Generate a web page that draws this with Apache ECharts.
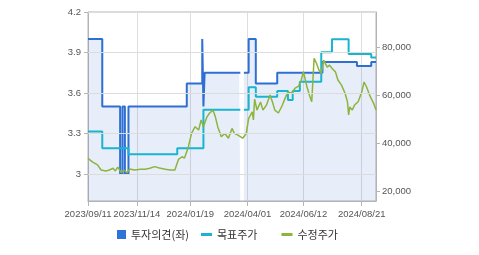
<!DOCTYPE html>
<html><head><meta charset="utf-8">
<script src="https://cdn.jsdelivr.net/npm/echarts@6/dist/echarts.min.js"></script>
<style>html,body{margin:0;padding:0;background:#fff}#c{width:479px;height:255px}</style>
</head><body><div id="c"></div>
<script>
// trading calendar (KRX)
const startDate = '2023-09-11';
const endDate = '2024-09-06';
const holidays = ['2023-09-28','2023-09-29','2023-10-02','2023-10-03','2023-10-09','2023-12-25','2023-12-29',
  '2024-01-01','2024-02-09','2024-02-12','2024-03-01','2024-04-10','2024-05-01','2024-05-06','2024-05-15',
  '2024-06-06','2024-08-15'];
const xLabelDates = ['2023/09/11','2023/11/14','2024/01/19','2024/04/01','2024/06/12','2024/08/21'];
const leftTicks = [3, 3.3, 3.6, 3.9, 4.2];
const rightTicks = [20000, 40000, 60000, 80000];

// 수정주가 (trading-day index, price)
const priceIdx = [0,4,8,11,15,18,21,23,25,28,30,33,35,39,44,48,52,56,60,65,69,73,76,79,81,84,87,90,93,95,97,100,102,105,107,109,112,115,118,121,123,126,130,133,135,138,139,140,142,145,147,150,153,155,157,160,163,166,168,171,174,177,179,181,184,186,188,190,192,194,196,198,201,203,205,208,210,213,216,218,219,220,222,224,227,230,232,234,237,240,242];
const priceVal = [33800,32300,31100,29000,28600,29000,29700,28600,30200,27900,29000,27900,29400,29000,29300,29300,29700,30400,29800,29300,29000,29000,33400,34500,33900,38000,44200,47000,45600,49800,47000,51100,52600,53900,51100,47000,42800,44200,42200,46300,44200,43500,42200,44200,50500,53200,49800,58500,53900,57300,53900,56000,60200,57300,53900,52700,55600,59300,61400,60900,63000,63900,66000,69900,63600,60200,57400,75400,73400,70600,69200,74700,71800,72600,71300,69700,66400,64300,60900,57400,51900,55200,53900,56000,57400,61400,65600,63600,59700,56700,53900];

// 투자의견 (change points)
const opinionIdx = [0,12,27,29,31,34,83,96,97,98,127,128,131,135,141,159,197,226,238,242];
const opinionVal = [4.0,3.5,3.0,3.5,3.0,3.5,3.67,4.0,3.5,3.75,3.75,null,3.75,4.0,3.67,3.75,3.83,3.8,3.83,3.83];

// 목표주가 (change points)
const targetIdx = [0,12,34,75,97,127,128,131,135,141,159,168,172,178,196,205,219,238,242];
const targetVal = [45000,38000,35500,38000,54000,54000,null,54000,63400,59500,61800,58100,61800,65700,78000,83400,77200,75800,75800];

function pad(n){return n<10?'0'+n:''+n;}
const cats = [];
(function(){
  const d = new Date(startDate+'T00:00:00');
  const e = new Date(endDate+'T00:00:00');
  while (d <= e) {
    const iso = d.getFullYear()+'-'+pad(d.getMonth()+1)+'-'+pad(d.getDate());
    const wd = d.getDay();
    if (wd !== 0 && wd !== 6 && holidays.indexOf(iso) < 0) cats.push(iso.replace(/-/g,'/'));
    d.setDate(d.getDate()+1);
  }
})();
function pairs(idx, vals){ return idx.map((i,k)=>[cats[i], vals[k]]); }
const isLabel = (i, v) => xLabelDates.indexOf(v) >= 0;
const fmt = v => String(v).replace(/\B(?=(\d{3})+(?!\d))/g, ',');

const axisFont = {fontFamily:'Liberation Sans, Arial, sans-serif', fontSize:9.5, color:'#555'};
const legendFont = {fontFamily:'Noto Sans CJK KR', fontSize:11, color:'#333'};
const chart = echarts.init(document.getElementById('c'), null, {renderer:'canvas'});
chart.setOption({
  animation:false,
  grid:{left:88, right:103, top:12, bottom:54, show:true, borderColor:'#b4b4b4', borderWidth:1, backgroundColor:'transparent'},
  legend:[
    {data:[{name:'투자의견(좌)'}], left:117, top:229, padding:0, icon:'rect', itemWidth:9, itemHeight:9, itemGap:24, textStyle:legendFont},
    {data:[{name:'목표주가'},{name:'수정주가'}], left:201, top:229, padding:0, icon:'rect', itemWidth:11, itemHeight:3, itemGap:24, textStyle:legendFont}
  ],
  xAxis:{type:'category', data:cats, boundaryGap:false,
    axisLine:{lineStyle:{color:'#b4b4b4'}},
    axisTick:{interval:isLabel, length:5, lineStyle:{color:'#b4b4b4'}},
    axisLabel:Object.assign({interval:isLabel, margin:8}, axisFont),
    splitLine:{show:true, interval:isLabel, lineStyle:{color:'#dedede'}}},
  yAxis:[
    {type:'value', min:2.8, max:4.2, position:'left',
     axisLine:{show:true, lineStyle:{color:'#b4b4b4'}},
     axisTick:{show:true, length:4, customValues:leftTicks, lineStyle:{color:'#b4b4b4'}},
     axisLabel:Object.assign({customValues:leftTicks, margin:7}, axisFont),
     splitLine:{show:false}},
    {type:'value', min:16100, max:94700, position:'right',
     axisLine:{show:true, lineStyle:{color:'#b4b4b4'}},
     axisTick:{show:true, length:4, customValues:rightTicks, lineStyle:{color:'#b4b4b4'}},
     axisLabel:Object.assign({customValues:rightTicks, margin:6, formatter:fmt}, axisFont),
     splitLine:{show:false}}
  ],
  series:[
    {name:'grid', type:'line', yAxisIndex:0, data:[], z:1, silent:true,
     markLine:{silent:true, symbol:'none', animation:false, label:{show:false},
       lineStyle:{color:'#dcdcdc', type:'solid', width:1},
       data:leftTicks.map(v=>({yAxis:v}))}},
    {name:'투자의견(좌)', type:'line', yAxisIndex:0, step:'end', data:pairs(opinionIdx, opinionVal),
     showSymbol:false, connectNulls:false, itemStyle:{color:'#2f72d8'},
     lineStyle:{color:'#2f6fd3', width:2}, areaStyle:{color:'rgba(49,112,216,0.17)'}, z:2},
    {name:'목표주가', type:'line', yAxisIndex:1, step:'end', data:pairs(targetIdx, targetVal),
     showSymbol:false, connectNulls:false, itemStyle:{color:'#19b4d0'},
     lineStyle:{color:'#19b4d0', width:2}, z:3},
    {name:'수정주가', type:'line', yAxisIndex:1, data:pairs(priceIdx, priceVal),
     showSymbol:false, itemStyle:{color:'#8db43c'},
     lineStyle:{color:'#8db43c', width:1.5}, z:4}
  ]
});
</script></body></html>
